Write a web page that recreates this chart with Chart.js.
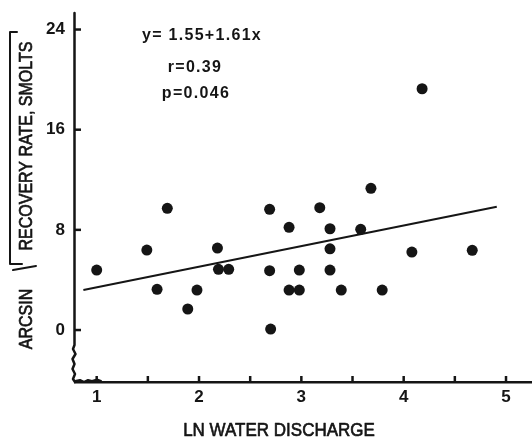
<!DOCTYPE html>
<html>
<head>
<meta charset="utf-8">
<script src="https://cdn.jsdelivr.net/npm/chart.js@4/dist/chart.umd.min.js"></script>
<style>
  html, body { margin: 0; padding: 0; background: #fff; }
  #wrap { width: 532px; height: 438px; position: relative; }
</style>
</head>
<body>
<div id="wrap"><canvas id="chart"></canvas></div>
<script>
// values
const dischargeX = [1.00, 1.49, 1.59, 1.69, 1.89, 1.98, 2.18, 2.19, 2.29, 2.69, 2.69, 2.70, 2.88, 2.88,
  2.98, 2.98, 3.18, 3.28, 3.28, 3.28, 3.39, 3.58, 3.68, 3.79, 4.08, 4.18, 4.67];
const recoveryY = [4.79, 6.39, 3.25, 9.72, 1.68, 3.19, 6.55, 4.85, 4.85, 9.64, 4.74, 0.08, 8.20, 3.19,
  3.19, 4.79, 9.77, 8.09, 6.49, 4.79, 3.19, 8.04, 11.32, 3.19, 6.23, 19.27, 6.37];
const fitX = [0.87, 4.91];
const fitY = [3.19, 9.85];
const xTicks = [1, 1.5, 2, 2.5, 3, 3.5, 4, 4.5, 5];
const yTicks = [0, 8, 16, 24];
const statLines = ['y= 1.55+1.61x', 'r=0.39', 'p=0.046'];

const ink = '#151515';
const points = dischargeX.map((x, i) => ({ x: x, y: recoveryY[i] }));
const fitLine = fitX.map((x, i) => ({ x: x, y: fitY[i] }));

// slightly heavier text, like the printed figure
const heavyText = (ctx, text, x, y) => {
  ctx.fillText(text, x, y);
  ctx.strokeText(text, x, y);
};

// axis decorations, inward ticks, titles and the stats text
const decor = {
  id: 'decor',
  afterDraw(chart) {
    const ctx = chart.ctx;
    const xs = chart.scales.x;
    const ys = chart.scales.y;
    const area = chart.chartArea;
    const ax = area.left;
    ctx.save();
    ctx.strokeStyle = ink;
    ctx.fillStyle = ink;
    ctx.lineCap = 'round';
    ctx.lineJoin = 'round';

    // y axis with the hand-drawn break at the bottom
    ctx.lineWidth = 2.5;
    ctx.beginPath();
    ctx.moveTo(ax - 0.5, area.top);
    ctx.lineTo(ax - 0.5, 345);
    ctx.lineTo(ax - 2, 349);
    ctx.lineTo(ax + 0.5, 354);
    ctx.lineTo(ax - 2.5, 359);
    ctx.lineTo(ax - 0.5, 364);
    ctx.lineTo(ax - 2.5, 369);
    ctx.lineTo(ax, 374);
    ctx.lineTo(ax - 2, 379);
    ctx.lineTo(ax, area.bottom);
    ctx.stroke();
    ctx.lineWidth = 2;
    ctx.beginPath();
    ctx.moveTo(ax, area.bottom - 1);
    ctx.lineTo(ax + 5, area.bottom - 2);
    ctx.lineTo(ax + 9, area.bottom);
    ctx.lineTo(ax + 13, area.bottom - 2);
    ctx.lineTo(ax + 17, area.bottom - 1);
    ctx.lineTo(ax + 22, area.bottom - 2.5);
    ctx.lineTo(ax + 26, area.bottom - 1);
    ctx.stroke();

    // inward tick marks
    ctx.lineWidth = 2.5;
    ctx.lineCap = 'butt';
    xTicks.forEach((v) => {
      const px = xs.getPixelForValue(v);
      ctx.beginPath();
      ctx.moveTo(px, area.bottom);
      ctx.lineTo(px, area.bottom - 6);
      ctx.stroke();
    });
    yTicks.forEach((v) => {
      const py = ys.getPixelForValue(v);
      ctx.beginPath();
      ctx.moveTo(ax, py);
      ctx.lineTo(ax + 6, py);
      ctx.stroke();
    });

    // x title
    ctx.lineWidth = 0.6;
    ctx.font = '17px "Liberation Sans", Arial, sans-serif';
    ctx.textAlign = 'center';
    ctx.textBaseline = 'middle';
    ctx.save();
    ctx.translate(279, 431);
    ctx.scale(1, 1.12);
    heavyText(ctx, 'LN WATER DISCHARGE', 0, 0);
    ctx.restore();

    // y title, rotated, with the radical sign
    ctx.save();
    ctx.translate(27, 0);
    ctx.rotate(-Math.PI / 2);
    ctx.font = '16px "Liberation Sans", Arial, sans-serif';
    ctx.textAlign = 'center';
    ctx.textBaseline = 'middle';
    ctx.save();
    ctx.scale(1, 1.12);
    heavyText(ctx, 'ARCSIN', -319, 0);
    heavyText(ctx, 'RECOVERY RATE, SMOLTS', -146, 0);
    ctx.restore();
    ctx.restore();
    ctx.lineWidth = 2;
    ctx.lineCap = 'round';
    ctx.beginPath();
    ctx.moveTo(17, 32);
    ctx.lineTo(10, 32);
    ctx.lineTo(10, 264);
    ctx.lineTo(22, 264);
    ctx.stroke();
    ctx.beginPath();
    ctx.moveTo(13, 270);
    ctx.lineTo(36, 266);
    ctx.stroke();

    // regression stats
    ctx.font = 'bold 16px "Liberation Sans", Arial, sans-serif';
    ctx.letterSpacing = '1.3px';
    ctx.textAlign = 'center';
    ctx.textBaseline = 'middle';
    ctx.fillText(statLines[0], 202, 36);
    ctx.fillText(statLines[1], 195, 68);
    ctx.fillText(statLines[2], 196, 94);
    ctx.restore();
  }
};

const tickFont = { family: '"Liberation Sans", Arial, sans-serif', size: 17, weight: 'bold' };

new Chart(document.getElementById('chart'), {
  type: 'scatter',
  data: {
    datasets: [{
      data: points,
      pointRadius: 5.5,
      pointHoverRadius: 5.5,
      backgroundColor: ink,
      borderWidth: 0
    }, {
      data: fitLine,
      showLine: true,
      pointRadius: 0,
      borderColor: ink,
      borderWidth: 2,
      fill: false
    }]
  },
  options: {
    responsive: true,
    maintainAspectRatio: false,
    animation: false,
    layout: { autoPadding: false, padding: { top: 13, right: 0, bottom: 0, left: 0 } },
    plugins: {
      legend: { display: false },
      tooltip: { enabled: false }
    },
    scales: {
      x: {
        type: 'linear',
        min: 0.788,
        max: 5.254,
        grid: { display: false, drawTicks: false },
        border: { display: true, color: ink, width: 2.5 },
        afterBuildTicks: (scale) => { scale.ticks = xTicks.map((v) => ({ value: v })); },
        afterFit: (scale) => {
          scale.height = 56;
          scale.paddingLeft = 0;
          scale.paddingRight = 0;
        },
        ticks: {
          color: ink,
          font: tickFont,
          padding: 5,
          maxRotation: 0,
          autoSkip: false,
          callback: (v) => (Number.isInteger(v) ? String(v) : '')
        }
      },
      y: {
        type: 'linear',
        min: -4.15,
        max: 25.32,
        grid: { display: false, drawTicks: false },
        border: { display: false },
        afterBuildTicks: (scale) => { scale.ticks = yTicks.map((v) => ({ value: v })); },
        afterFit: (scale) => {
          scale.width = 75;
          scale.paddingTop = 0;
          scale.paddingBottom = 0;
        },
        ticks: {
          color: ink,
          font: tickFont,
          padding: 10,
          autoSkip: false,
          callback: (v) => String(v)
        }
      }
    }
  },
  plugins: [decor]
});
</script>
</body>
</html>
